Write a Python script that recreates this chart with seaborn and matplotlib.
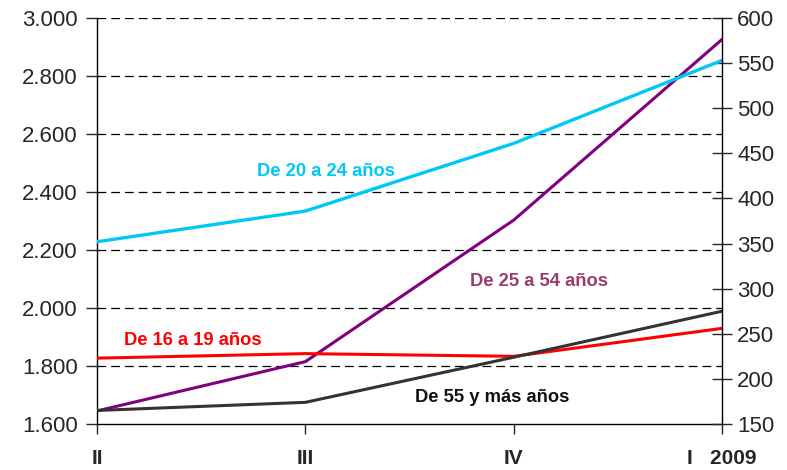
import numpy as np
import pandas as pd
import matplotlib
matplotlib.use("Agg")
import matplotlib.pyplot as plt
import seaborn as sns

# Quarters (2008 II .. 2009 I)
quarters = ["II", "III", "IV", "I   2009"]
x_pos = [0, 1, 2, 3]

# Left axis (thousands)
age_25_54 = [1645, 1815, 2303, 2926]

# Right axis (thousands)
age_20_24 = [352, 386, 461, 553]
age_16_19 = [223, 228, 225, 256]
age_55_plus = [165, 174, 224, 275]

left_ticks = [1600, 1800, 2000, 2200, 2400, 2600, 2800, 3000]
left_tick_labels = ["1.600", "1.800", "2.000", "2.200", "2.400", "2.600", "2.800", "3.000"]
right_ticks = [150, 200, 250, 300, 350, 400, 450, 500, 550, 600]

sns.set_style("white")
plt.rcParams['font.family'] = ['Liberation Sans', 'DejaVu Sans']

fig = plt.figure(figsize=(7.87, 4.70), dpi=100)
ax = fig.add_axes([97 / 787, 1 - 424 / 470, (722 - 97) / 787, (424 - 18) / 470])
ax2 = ax.twinx()

sns.lineplot(x=x_pos, y=age_25_54, ax=ax, color="#800080", linewidth=2.2)
sns.lineplot(x=x_pos, y=age_20_24, ax=ax2, color="#00C8F5", linewidth=2.4)
sns.lineplot(x=x_pos, y=age_16_19, ax=ax2, color="#FF0000", linewidth=2.2)
sns.lineplot(x=x_pos, y=age_55_plus, ax=ax2, color="#333333", linewidth=2.2)

ax.set_xlim(0, 3)
ax.set_ylim(1600, 3000)
ax2.set_ylim(150, 600)

# Grid from the left axis
for v in left_ticks[1:]:
    ax.axhline(v, color="black", linestyle=(0, (7, 4)), linewidth=0.9, zorder=0)

ax.set_yticks(left_ticks)
ax.set_yticklabels(left_tick_labels, fontsize=16)
ax2.set_yticks(right_ticks)
ax2.set_yticklabels([str(t) for t in right_ticks], fontsize=16)
ax.set_xticks(x_pos)
ax.set_xticklabels(quarters, fontsize=15, fontweight="bold")

ax.tick_params(axis="y", direction="out", length=8, width=1, pad=6, left=True)
ax.tick_params(axis="x", direction="out", length=7, width=1, pad=11, bottom=True)
ax2.tick_params(axis="y", direction="inout", length=14, width=1, pad=4, right=True)

for a in (ax, ax2):
    a.spines["top"].set_visible(False)
    for s in ("left", "right", "bottom"):
        a.spines[s].set_color("black")
        a.spines[s].set_linewidth(1)
ax.spines["right"].set_visible(False)
ax2.spines["left"].set_visible(False)
ax2.spines["bottom"].set_visible(False)
ax.set_xlabel("")
ax.set_ylabel("")
ax2.set_ylabel("")

# Series labels
ax.text(1.10, 2470, "De 20 a 24 años", color="#00C8F5", fontsize=13.2, fontweight="bold",
        ha="center", va="center")
ax.text(0.46, 1887, "De 16 a 19 años", color="#FF0000", fontsize=13.2, fontweight="bold",
        ha="center", va="center")
ax.text(2.12, 2090, "De 25 a 54 años", color="#9B3B6E", fontsize=13.2, fontweight="bold",
        ha="center", va="center")
ax.text(1.895, 1690, "De 55 y más años", color="#111111", fontsize=13.2, fontweight="bold",
        ha="center", va="center")

fig.savefig("out.png", dpi=100)
